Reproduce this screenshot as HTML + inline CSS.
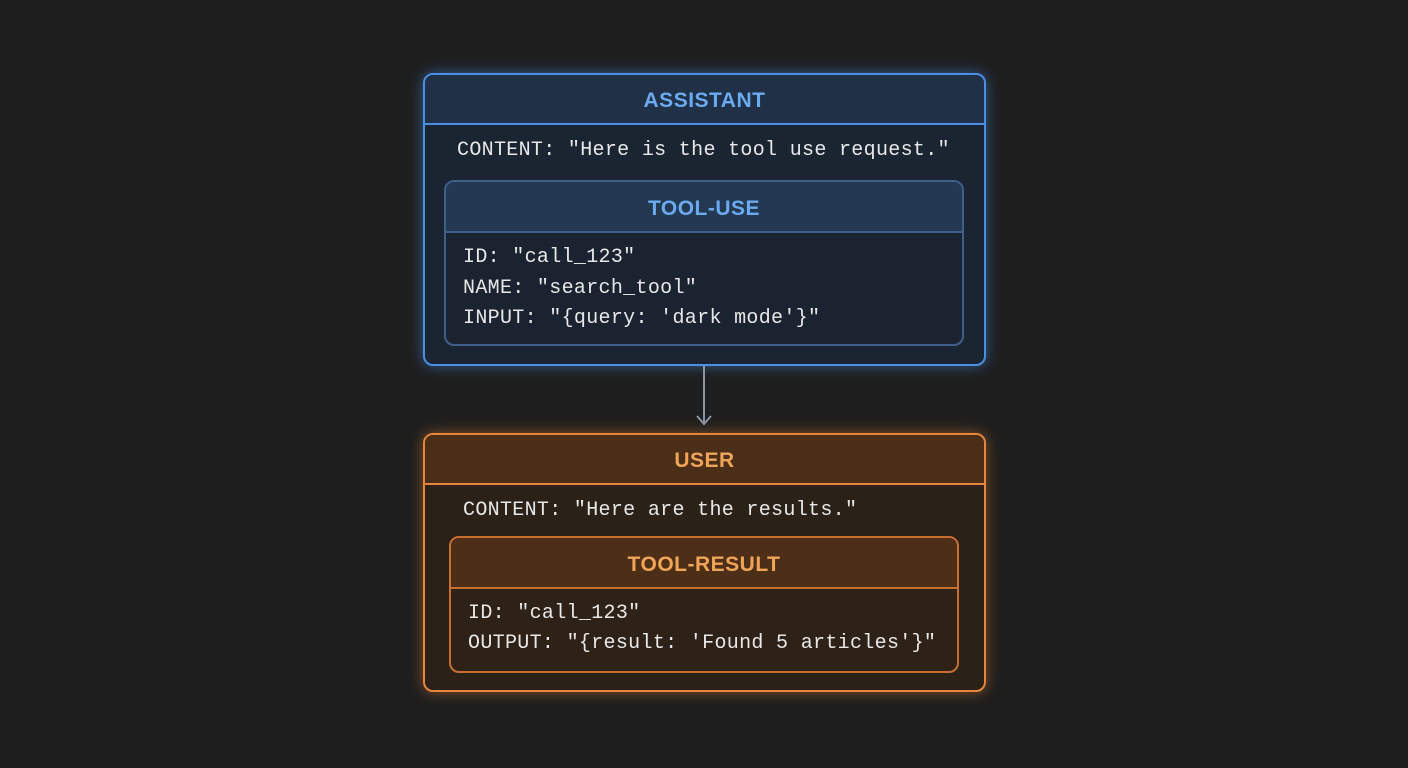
<!DOCTYPE html>
<html><head><meta charset="utf-8"><style>
body{margin:0;width:1408px;height:768px;background:#1e1e1e;position:relative;overflow:hidden;font-family:"Liberation Mono",monospace}
.b{position:absolute;box-sizing:border-box;border-radius:10px}
.t{position:absolute;font-family:"Liberation Sans",sans-serif;font-weight:bold;font-size:21px;text-align:center;letter-spacing:0.5px}
.m{position:absolute;font-size:20px;letter-spacing:0.32px;color:#e8e8e8;white-space:pre;line-height:24px}
.h{position:absolute;height:2px}
</style></head><body>
<!-- assistant -->
<div class="b" style="left:423px;top:73px;width:563px;height:293px;border:2px solid #4a8ee6;background:#1b2431;box-shadow:0 0 14px rgba(74,142,230,.55)"></div>
<div style="position:absolute;left:425px;top:75px;width:559px;height:49px;background:#1f3047;border-radius:8px 8px 0 0"></div>
<div class="h" style="left:425px;top:123px;width:559px;background:#4a8ee6"></div>
<div class="t" style="left:423px;top:89px;width:563px;color:#6aaaf0">ASSISTANT</div>
<div class="m" style="left:457px;top:139px">CONTENT: "Here is the tool use request."</div>
<div class="b" style="left:444px;top:180px;width:520px;height:166px;border:2px solid #3d5f8a;background:#1b2230"></div>
<div style="position:absolute;left:446px;top:182px;width:516px;height:49px;background:#243852;border-radius:8px 8px 0 0"></div>
<div class="h" style="left:446px;top:231px;width:516px;background:#3d5f8a"></div>
<div class="t" style="left:444px;top:197px;width:520px;color:#6aaaf0">TOOL-USE</div>
<div class="m" style="left:463px;top:246px">ID: "call_123"</div>
<div class="m" style="left:463px;top:277px">NAME: "search_tool"</div>
<div class="m" style="left:463px;top:307px">INPUT: "{query: 'dark mode'}"</div>
<!-- arrow -->
<svg style="position:absolute;left:690px;top:364px" width="30" height="66"><line x1="14" y1="2" x2="14" y2="60" stroke="#8a95a5" stroke-width="2"/><polyline points="7,52 14,60 21,52" fill="none" stroke="#8a95a5" stroke-width="2"/></svg>
<!-- user -->
<div class="b" style="left:423px;top:433px;width:563px;height:259px;border:2px solid #e8853a;background:#2a2119;box-shadow:0 0 14px rgba(232,133,58,.5)"></div>
<div style="position:absolute;left:425px;top:435px;width:559px;height:48px;background:#4a2e18;border-radius:8px 8px 0 0"></div>
<div class="h" style="left:425px;top:483px;width:559px;background:#e8853a"></div>
<div class="t" style="left:423px;top:449px;width:563px;color:#f0a458">USER</div>
<div class="m" style="left:463px;top:499px">CONTENT: "Here are the results."</div>
<div class="b" style="left:449px;top:536px;width:510px;height:137px;border:2px solid #c86f2e;background:#2e2118"></div>
<div style="position:absolute;left:451px;top:538px;width:506px;height:49px;background:#4d2f18;border-radius:8px 8px 0 0"></div>
<div class="h" style="left:451px;top:587px;width:506px;background:#c86f2e"></div>
<div class="t" style="left:449px;top:553px;width:510px;color:#f0a458">TOOL-RESULT</div>
<div class="m" style="left:468px;top:602px">ID: "call_123"</div>
<div class="m" style="left:468px;top:632px">OUTPUT: "{result: 'Found 5 articles'}"</div>
</body></html>
